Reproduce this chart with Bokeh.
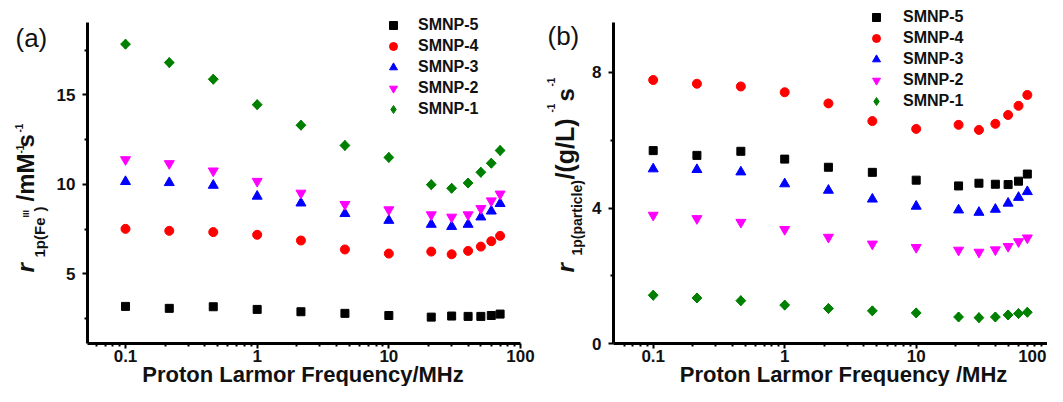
import math
from bokeh.plotting import figure
from bokeh.models import (Label, Legend, LegendItem, ColumnDataSource, FixedTicker,
                          CustomJSTickFormatter, Range1d)
from bokeh.layouts import row
from bokeh.embed import file_html
from bokeh.resources import INLINE

# ---------------- data ----------------
freq = [0.1, 0.215, 0.464, 1.0, 2.15, 4.64, 10.0, 21.0, 30.0, 40.0, 50.0, 60.0, 70.0]
series_names = ["SMNP-5", "SMNP-4", "SMNP-3", "SMNP-2", "SMNP-1"]

# panel (a): r1p per Fe(III)  / mM^-1 s^-1
a_smnp5 = [3.18, 3.07, 3.16, 3.01, 2.88, 2.79, 2.67, 2.58, 2.64, 2.62, 2.62, 2.67, 2.75]
a_smnp4 = [7.51, 7.40, 7.33, 7.18, 6.86, 6.36, 6.13, 6.24, 6.09, 6.28, 6.52, 6.82, 7.12]
a_smnp3 = [10.15, 10.09, 9.94, 9.33, 8.95, 8.36, 7.98, 7.76, 7.64, 7.76, 8.17, 8.50, 8.92]
a_smnp2 = [11.38, 11.16, 10.75, 10.17, 9.51, 8.88, 8.58, 8.30, 8.17, 8.30, 8.65, 9.08, 9.46]
a_smnp1 = [17.83, 16.80, 15.87, 14.45, 13.30, 12.17, 11.50, 9.98, 9.78, 10.07, 10.67, 11.18, 11.89]

# panel (b): r1p per particle  / (g/L)^-1 s^-1
b_smnp5 = [5.69, 5.55, 5.67, 5.44, 5.20, 5.05, 4.82, 4.65, 4.73, 4.70, 4.69, 4.79, 5.00]
b_smnp4 = [7.77, 7.66, 7.58, 7.41, 7.08, 6.56, 6.33, 6.45, 6.30, 6.48, 6.74, 7.01, 7.33]
b_smnp3 = [5.15, 5.13, 5.06, 4.71, 4.52, 4.26, 4.05, 3.94, 3.87, 3.96, 4.14, 4.31, 4.48]
b_smnp2 = [3.79, 3.69, 3.58, 3.37, 3.14, 2.94, 2.84, 2.76, 2.70, 2.77, 2.87, 3.01, 3.12]
b_smnp1 = [1.43, 1.35, 1.27, 1.14, 1.04, 0.97, 0.91, 0.79, 0.77, 0.79, 0.85, 0.89, 0.93]

x_major = [0.1, 1, 10, 100]
a_y_major = [5, 10, 15]
a_y_minor = [2.5, 7.5, 12.5, 17.5]
b_y_major = [0, 4, 8]
b_y_minor = [2, 6]

# ---------------- styles / layout constants ----------------
FONT = "Liberation Sans"
H = 386
BASE_SHIFT = 0.35   # anchor correction (em) so that the given y is the text baseline
markers = [
    dict(marker="square", size=8, color="#000000"),
    dict(marker="circle", size=9, color="#ff0000"),
    dict(marker="triangle", size=10, color="#0000ff"),
    dict(marker="inverted_triangle", size=10, color="#ff00ff"),
    dict(marker="diamond", size=9.9, color="#008000"),
]


def lin_val(px, px1, v1, px2, v2):
    return v1 + (px - px1) * (v2 - v1) / (px2 - px1)


def log_val(px, px1, v1, px2, v2):
    return 10 ** lin_val(px, px1, math.log10(v1), px2, math.log10(v2))


def make_panel(width, xa, ya, box, y_major, y_minor, series, x_fmt):
    # xa/ya: two pixel anchors each (canvas px, value); box: (left, top, bottom) px of axes
    (xp1, xv1), (xp2, xv2) = xa
    (yp1, yv1), (yp2, yv2) = ya
    left, top, bottom = box
    p = figure(width=width, height=H, x_axis_type="log",
               x_range=Range1d(log_val(0, xp1, xv1, xp2, xv2), log_val(width, xp1, xv1, xp2, xv2)),
               y_range=Range1d(lin_val(H, yp1, yv1, yp2, yv2), lin_val(0, yp1, yv1, yp2, yv2)),
               output_backend="svg", toolbar_location=None,
               min_border=0, min_border_left=0, min_border_right=0,
               min_border_top=0, min_border_bottom=0)
    p.outline_line_color = None
    p.grid.visible = False
    p.background_fill_color = "white"
    x_left = log_val(left, xp1, xv1, xp2, xv2)
    y_bot = lin_val(bottom, yp1, yv1, yp2, yv2)
    y_top = lin_val(top, yp1, yv1, yp2, yv2)
    x_minor = [m * 10.0 ** e for e in (-2, -1, 0, 1) for m in range(2, 10)
               if m * 10.0 ** e > x_left * 1.05]
    xax, yax = p.xaxis[0], p.yaxis[0]
    xax.fixed_location = y_bot
    xax.bounds = (x_left, x_major[-1])
    yax.fixed_location = x_left
    yax.bounds = (y_bot, y_top)
    xax.ticker = FixedTicker(ticks=x_major, minor_ticks=x_minor)
    xax.formatter = CustomJSTickFormatter(code=x_fmt)
    yax.ticker = FixedTicker(ticks=y_major, minor_ticks=y_minor)
    for ax in (xax, yax):
        ax.axis_line_width = 3
        ax.axis_line_color = "black"
        ax.major_tick_line_width = 2
        ax.minor_tick_line_width = 2
        ax.major_tick_in = 0
        ax.major_tick_out = 5
        ax.minor_tick_in = 0
        ax.minor_tick_out = 3
        ax.major_label_text_font = FONT
        ax.major_label_text_font_style = "bold"
        ax.major_label_text_font_size = "17px"
        ax.major_label_text_color = "#111111"
    xax.major_label_standoff = 1
    yax.major_label_standoff = 7
    legend_renderers = []
    for vals, st in zip(series, markers):
        src = ColumnDataSource(dict(f=freq, v=vals))
        r = p.scatter("f", "v", source=src, marker=st["marker"], size=st["size"],
                      fill_color=st["color"], line_color=st["color"])
        legend_renderers.append(r)
        if st["marker"] == "diamond":
            # the reference diamonds are square-shaped: overlay a rotated square
            p.scatter("f", "v", source=src, marker="square", size=7, angle=math.pi / 4,
                      fill_color=st["color"], line_color=st["color"])
    return p, legend_renderers


def add_legend(p, renderers, x, y, standoff):
    items = [LegendItem(label=n, renderers=[r]) for n, r in zip(series_names, renderers)]
    leg = Legend(items=items, location=(x, y), orientation="vertical",
                 glyph_width=20, glyph_height=20, label_height=20, spacing=1,
                 padding=0, margin=0, label_standoff=standoff,
                 border_line_color=None, background_fill_alpha=0,
                 label_text_font=FONT, label_text_font_style="bold",
                 label_text_font_size="16px", label_text_color="#111111")
    p.add_layout(leg)


def add_text(p, x0, text, xr, yr, size, style="bold", angle=0.0, align="left",
             baseline="alphabetic"):
    # (xr, yr): picture position of the text baseline start (or centre / top per align)
    if baseline == "alphabetic":
        if angle == 0.0:
            yr = yr - BASE_SHIFT * size
        else:
            xr = xr - BASE_SHIFT * size
    p.add_layout(Label(x=xr - x0, y=H - yr, x_units="screen", y_units="screen",
                       text=text, angle=angle, text_align=align,
                       text_baseline=baseline, text_font=FONT,
                       text_font_style=style, text_font_size=f"{size}px",
                       text_color="#111111"))


# ---------------- panel (a) ----------------
X0a = 0
pa, ra = make_panel(535, [(125, 0.1), (520, 100)], [(94.3, 15), (273.3, 5)],
                    (87, 21.7, 343), a_y_major, a_y_minor,
                    [a_smnp5, a_smnp4, a_smnp3, a_smnp2, a_smnp1],
                    "return String(tick)")
add_legend(pa, ra, 383 - X0a, H - 119, 15)
add_text(pa, X0a, "(a)", 15, 46.5, 26, style="normal")
add_text(pa, X0a, "Proton Larmor Frequency/MHz", 302.5, 381.5, 22, align="center")
segs_a = [("r", 33.5, 272, 24, "bold italic"), ("1p(Fe", 44.5, 257, 15, "bold"),
          ("III", 29, 217, 9, "bold"), (")", 44.5, 211, 15, "bold"),
          ("/mM", 33.5, 201, 24, "bold"), ("-1", 23, 153, 10, "bold"),
          ("s", 33.5, 147, 24, "bold"), ("-1", 22, 132, 10, "bold")]
for t, xr, yr, sz, stl in segs_a:
    add_text(pa, X0a, t, xr, yr, sz, style=stl, angle=math.pi / 2)

# ---------------- panel (b) ----------------
X0b = 535
pb, rb = make_panel(512, [(652.7 - X0b, 0.1), (1047.2 - X0b, 100)], [(71.7, 8), (343.3, 0)],
                    (613 - X0b, 21.7, 343.3), b_y_major, b_y_minor,
                    [b_smnp5, b_smnp4, b_smnp3, b_smnp2, b_smnp1],
                    "return tick >= 100 ? '' : String(tick)")
add_legend(pb, rb, 866 - X0b, H - 111, 17)
add_text(pb, X0b, "(b)", 547, 45, 26, style="normal")
add_text(pb, X0b, "100", 1046, 349.3, 17, align="right", baseline="top")
add_text(pb, X0b, "Proton Larmor Frequency /MHz", 843, 381.5, 22, align="center")
segs_b = [("r", 573, 272, 24, "bold italic"), ("1p(particle)", 581, 255, 14, "bold"),
          ("/(g/L)", 573, 179, 25, "bold"), ("-1", 554, 112, 10, "bold"),
          ("s", 573, 101, 24, "bold"), ("-1", 554, 86, 10, "bold")]
for t, xr, yr, sz, stl in segs_b:
    add_text(pb, X0b, t, xr, yr, sz, style=stl, angle=math.pi / 2)

layout = row(pa, pb)
open("out.html", "w").write(file_html(layout, INLINE))
